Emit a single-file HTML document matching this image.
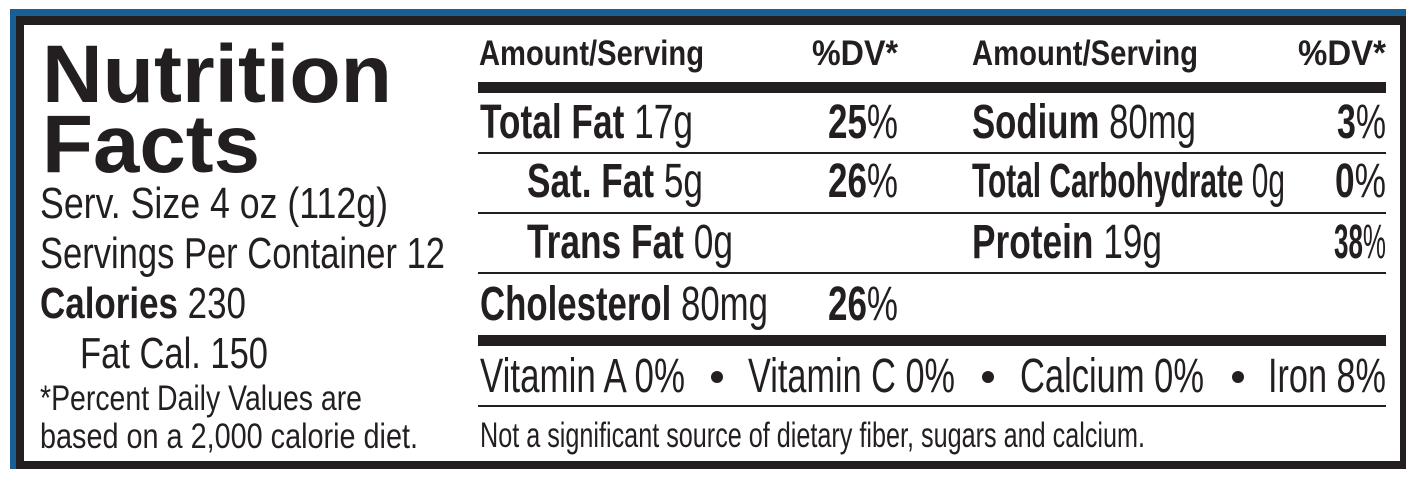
<!DOCTYPE html>
<html><head><meta charset="utf-8"><style>
html,body{margin:0;padding:0;background:#fff;}
svg{display:block;}
text{font-family:"Liberation Sans Narrow","Liberation Sans",sans-serif;fill:#231f20;}
.b{font-weight:bold;}
</style></head><body>
<svg width="1416" height="481" viewBox="0 0 1416 481" xmlns="http://www.w3.org/2000/svg">
<rect x="10" y="9" width="1396" height="460" fill="#1a5f94"/>
<rect x="16" y="16" width="1390" height="453" fill="#231f20"/>
<rect x="24" y="25" width="1376" height="436" fill="#fff"/>

<text class="b" x="42" y="102" font-size="82" textLength="350" lengthAdjust="spacingAndGlyphs" style="font-family:'Liberation Sans',sans-serif">Nutrition</text>
<text class="b" x="42" y="172" font-size="82" textLength="218" lengthAdjust="spacingAndGlyphs" style="font-family:'Liberation Sans',sans-serif">Facts</text>
<text x="40" y="218" font-size="44" textLength="348" lengthAdjust="spacingAndGlyphs">Serv. Size 4 oz (112g)</text>
<text x="40" y="268" font-size="44" textLength="405" lengthAdjust="spacingAndGlyphs">Servings Per Container 12</text>
<text x="40" y="318" font-size="44" textLength="206" lengthAdjust="spacingAndGlyphs"><tspan class="b">Calories</tspan> 230</text>
<text x="80" y="368" font-size="44" textLength="188" lengthAdjust="spacingAndGlyphs">Fat Cal. 150</text>
<text x="40" y="410" font-size="35" textLength="322" lengthAdjust="spacingAndGlyphs">*Percent Daily Values are</text>
<text x="40" y="448" font-size="35" textLength="378" lengthAdjust="spacingAndGlyphs">based on a 2,000 calorie diet.</text>

<text class="b" x="479" y="65" font-size="35" textLength="225" lengthAdjust="spacingAndGlyphs">Amount/Serving</text>
<text class="b" x="812" y="65" font-size="35" textLength="86" lengthAdjust="spacingAndGlyphs">%DV*</text>
<text class="b" x="972" y="65" font-size="35" textLength="226" lengthAdjust="spacingAndGlyphs">Amount/Serving</text>
<text class="b" x="1298" y="65" font-size="35" textLength="88" lengthAdjust="spacingAndGlyphs">%DV*</text>

<rect x="478" y="82" width="908" height="11" fill="#231f20"/>

<text x="480" y="138" font-size="48" textLength="213" lengthAdjust="spacingAndGlyphs"><tspan class="b">Total Fat</tspan> 17g</text>
<text x="828" y="138" font-size="48" textLength="70" lengthAdjust="spacingAndGlyphs"><tspan class="b">25</tspan>%</text>
<text x="972" y="138" font-size="48" textLength="224" lengthAdjust="spacingAndGlyphs"><tspan class="b">Sodium</tspan> 80mg</text>
<text x="1337" y="138" font-size="48" textLength="49" lengthAdjust="spacingAndGlyphs"><tspan class="b">3</tspan>%</text>
<rect x="478" y="152" width="908" height="2" fill="#231f20"/>

<text x="527" y="197" font-size="48" textLength="176" lengthAdjust="spacingAndGlyphs"><tspan class="b">Sat. Fat</tspan> 5g</text>
<text x="828" y="197" font-size="48" textLength="70" lengthAdjust="spacingAndGlyphs"><tspan class="b">26</tspan>%</text>
<text x="972" y="197" font-size="48" textLength="313" lengthAdjust="spacingAndGlyphs"><tspan class="b">Total Carbohydrate</tspan> 0g</text>
<text x="1335" y="197" font-size="48" textLength="51" lengthAdjust="spacingAndGlyphs"><tspan class="b">0</tspan>%</text>
<rect x="478" y="212" width="908" height="2" fill="#231f20"/>

<text x="527" y="258" font-size="48" textLength="206" lengthAdjust="spacingAndGlyphs"><tspan class="b">Trans Fat</tspan> 0g</text>
<text x="972" y="258" font-size="48" textLength="190" lengthAdjust="spacingAndGlyphs"><tspan class="b">Protein</tspan> 19g</text>
<text x="1334" y="258" font-size="48" textLength="52" lengthAdjust="spacingAndGlyphs"><tspan class="b">38</tspan>%</text>
<rect x="478" y="272" width="908" height="2" fill="#231f20"/>

<text x="480" y="320" font-size="48" textLength="288" lengthAdjust="spacingAndGlyphs"><tspan class="b">Cholesterol</tspan> 80mg</text>
<text x="828" y="320" font-size="48" textLength="70" lengthAdjust="spacingAndGlyphs"><tspan class="b">26</tspan>%</text>

<rect x="478" y="335" width="908" height="11" fill="#231f20"/>
<text x="480" y="392" font-size="48" textLength="205" lengthAdjust="spacingAndGlyphs">Vitamin A 0%</text>
<circle cx="717" cy="377" r="6" fill="#231f20"/>
<text x="748" y="392" font-size="48" textLength="207" lengthAdjust="spacingAndGlyphs">Vitamin C 0%</text>
<circle cx="988" cy="377" r="6" fill="#231f20"/>
<text x="1020" y="392" font-size="48" textLength="184" lengthAdjust="spacingAndGlyphs">Calcium 0%</text>
<circle cx="1238" cy="377" r="6" fill="#231f20"/>
<text x="1268" y="392" font-size="48" textLength="118" lengthAdjust="spacingAndGlyphs">Iron 8%</text>
<rect x="478" y="405" width="908" height="2" fill="#231f20"/>
<text x="480" y="447" font-size="35" textLength="665" lengthAdjust="spacingAndGlyphs">Not a significant source of dietary fiber, sugars and calcium.</text>
</svg>
</body></html>
